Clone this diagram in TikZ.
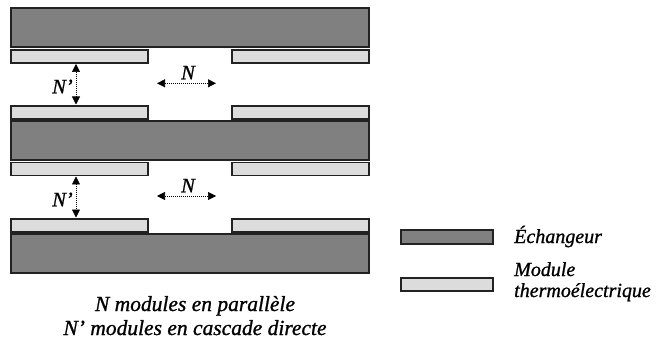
\documentclass[tikz,border=0pt]{standalone}
\usepackage{fontspec}
\setmainfont{Liberation Serif}[ItalicFeatures={FakeBold=1}]
\usetikzlibrary{arrows.meta}
\definecolor{exchfill}{HTML}{808080}
\definecolor{modfill}{HTML}{DCDCDC}
\definecolor{edge}{HTML}{222222}
\begin{document}
\begin{tikzpicture}[x=1pt,y=-1pt,
  exch/.style={draw=edge, line width=1.2pt, fill=exchfill, inner sep=0pt, outer sep=0pt, anchor=north west},
  modl/.style={draw=edge, line width=1.2pt, fill=modfill, inner sep=0pt, outer sep=0pt, anchor=north west},
  lab/.style={font=\fontsize{21.5}{24}\selectfont\itshape, inner sep=0pt},
  leg/.style={font=\fontsize{20}{22}\selectfont\itshape, inner sep=0pt},
  small/.style={font=\fontsize{20.5}{22}\selectfont\itshape, inner sep=0pt},
  darr/.style={line width=0.7pt, dash pattern=on 1pt off 1pt, {Triangle[length=8pt,width=8pt]}-{Triangle[length=8pt,width=8pt]}}]
\useasboundingbox (0,0) rectangle (660,347);
% exchangers
\node[exch, minimum width=358pt, minimum height=39pt] (e1) at (11,8) {};
\node[exch, minimum width=358pt, minimum height=39pt] (e2) at (11,121) {};
\node[exch, minimum width=358pt, minimum height=39pt] (e3) at (11,234) {};
% modules
\node[modl, minimum width=137pt, minimum height=13pt] (m1l) at (11,50) {};
\node[modl, minimum width=137pt, minimum height=13pt] (m1r) at (232,50) {};
\node[modl, minimum width=137pt, minimum height=13pt] (m2l) at (11,106) {};
\node[modl, minimum width=137pt, minimum height=13pt] (m2r) at (232,106) {};
\node[modl, minimum width=137pt, minimum height=13pt] (m3l) at (11,162.5) {};
\node[modl, minimum width=137pt, minimum height=13pt] (m3r) at (232,162.5) {};
\node[modl, minimum width=137pt, minimum height=13pt] (m4l) at (11,219) {};
\node[modl, minimum width=137pt, minimum height=13pt] (m4r) at (232,219) {};
% arrows
\coordinate (v) at (76,0);
\coordinate (h1) at (0,83.3);
\coordinate (h2) at (0,196);
\draw[darr, shorten <=1pt, shorten >=1.5pt] (m1l.south -| v) -- (m2l.north -| v);
\draw[darr, shorten <=1pt, shorten >=1.5pt] (m3l.south -| v) -- (m4l.north -| v);
\draw[darr, shorten <=9pt, shorten >=16pt] (m1l.east |- h1) -- (m1r.west |- h1);
\draw[darr, shorten <=9pt, shorten >=16pt] (m3l.east |- h2) -- (m3r.west |- h2);
% labels
\node[small, anchor=base] (n1) at (188,79.3) {N};
\node[small, anchor=base] (np1) at (62.5,93.3) {N’};
\node[small, anchor=base] (n2) at (188,192.3) {N};
\node[small, anchor=base] (np2) at (62.5,206.3) {N’};
% legend
\node[exch, minimum width=92pt, minimum height=14pt] (le) at (401,230) {};
\node[modl, minimum width=92pt, minimum height=13pt] (lm) at (401,278) {};
\node[leg, anchor=base west] (te) at (514,243) {Échangeur};
\node[leg, anchor=base west] (tm1) at (514,276) {Module};
\node[leg, anchor=base west] (tm2) at (514,297) {thermoélectrique};
% caption
\node[lab, anchor=base] (c1) at (195,311) {N modules en parallèle};
\node[lab, anchor=base] (c2) at (195,335) {N’ modules en cascade directe};
\end{tikzpicture}
\end{document}
